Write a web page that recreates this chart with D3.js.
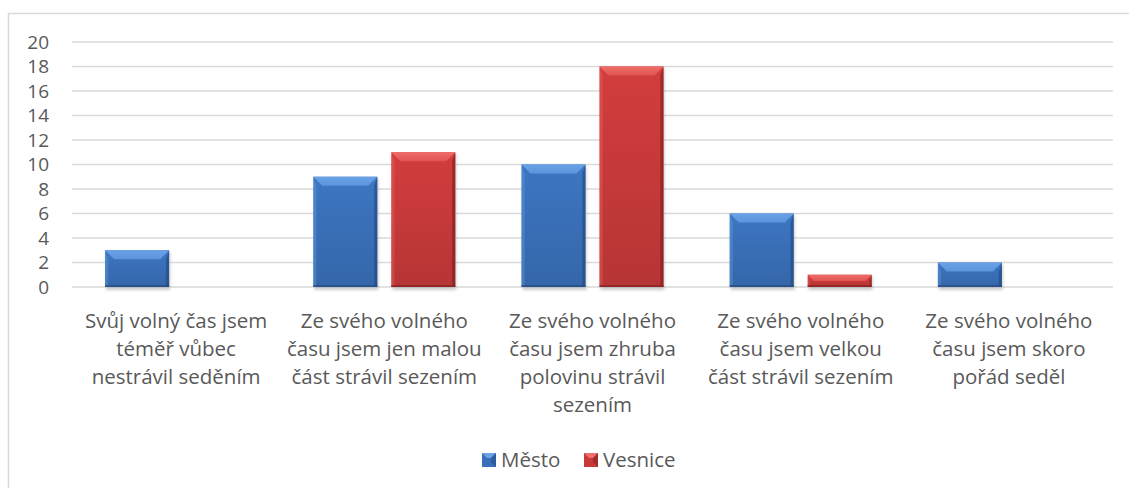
<!DOCTYPE html>
<html>
<head>
<meta charset="utf-8">
<script src="https://cdn.jsdelivr.net/npm/d3@7"></script>
<style>
  body { margin: 0; background: #fff; }
  svg { display: block; }
  text { font-family: "Open Sans", sans-serif; fill: #595959; }
</style>
</head>
<body>
<svg id="chart" width="1129" height="488"></svg>
<script>
// Answers grouped by category, one value per series
const categories = [
  ["Svůj volný čas jsem", "téměř vůbec", "nestrávil seděním"],
  ["Ze svého volného", "času jsem jen malou", "část strávil sezením"],
  ["Ze svého volného", "času jsem zhruba", "polovinu strávil", "sezením"],
  ["Ze svého volného", "času jsem velkou", "část strávil sezením"],
  ["Ze svého volného", "času jsem skoro", "pořád seděl"]
];
const seriesNames = ["Město", "Vesnice"];
const mesto = [3, 9, 10, 6, 2];
const vesnice = [0, 11, 18, 1, 0];
const yTicks = [0, 2, 4, 6, 8, 10, 12, 14, 16, 18, 20];

const svg = d3.select("#chart");
const W = 1129, H = 488;

// outer frame
svg.append("rect").attr("x", 8.5).attr("y", 13.5).attr("width", W).attr("height", H)
  .attr("fill", "#fff").attr("stroke", "#d9d9d9").attr("stroke-width", 1.5);

const plot = { left: 72, right: 1113, top: 42, bottom: 287 };

const x0 = d3.scaleBand().domain(d3.range(categories.length))
  .range([plot.left, plot.right]).paddingInner(0).paddingOuter(0);
const y = d3.scaleLinear().domain([0, 20]).range([plot.bottom, plot.top]);

// gradients
const defs = svg.append("defs");
const palettes = [
  { main: "#3a70b9", light: "#6aa2e6", top: "#5c95dc", dark: "#1f477d" },
  { main: "#c83a3a", light: "#ef6d6a", top: "#e05452", dark: "#7a1e1e" }
];
palettes.forEach((p, i) => {
  const g = defs.append("linearGradient").attr("id", "body" + i)
    .attr("x1", 0).attr("y1", 0).attr("x2", 0).attr("y2", 1);
  g.append("stop").attr("offset", "0%").attr("stop-color", d3.color(p.main).brighter(0.15));
  g.append("stop").attr("offset", "100%").attr("stop-color", d3.color(p.main).darker(0.25));
  const t = defs.append("linearGradient").attr("id", "top" + i)
    .attr("x1", 0).attr("y1", 0).attr("x2", 0).attr("y2", 1);
  t.append("stop").attr("offset", "0%").attr("stop-color", p.light);
  t.append("stop").attr("offset", "100%").attr("stop-color", p.top);
});
const blur = defs.append("filter").attr("id", "shadow").attr("x", "-20%").attr("y", "-20%")
  .attr("width", "140%").attr("height", "160%");
blur.append("feGaussianBlur").attr("stdDeviation", 1.5);

// gridlines
svg.append("g").selectAll("line").data(yTicks).join("line")
  .attr("x1", plot.left).attr("x2", plot.right)
  .attr("y1", d => y(d)).attr("y2", d => y(d))
  .attr("stroke", "#d9d9d9").attr("stroke-width", 1.5);

// y axis labels
const yAxis = d3.axisLeft(y).tickValues(yTicks).tickSize(0).tickPadding(0);
const ya = svg.append("g").attr("transform", `translate(49,0)`).call(yAxis);
ya.select(".domain").remove();
ya.selectAll("text").style("font-size", "19px").attr("fill", "#595959")
  .style("font-family", "'Open Sans', sans-serif");

// bars
const barW = 64, gap = 14;
const x1 = d3.scaleOrdinal().domain([0, 1]).range([-(gap / 2) - barW, gap / 2]);
const data = [];
categories.forEach((c, i) => {
  [mesto[i], vesnice[i]].forEach((v, s) => { if (v > 0) data.push({ i, s, v }); });
});

const bars = svg.append("g").selectAll("g").data(data).join("g")
  .attr("transform", d => `translate(${x0(d.i) + x0.bandwidth() / 2 + x1(d.s)},0)`);

bars.append("rect").attr("x", 1).attr("y", d => y(d.v) + 2)
  .attr("width", barW).attr("height", d => y(0) - y(d.v) + 1)
  .attr("fill", "#9a9a9a").attr("opacity", 0.5).attr("filter", "url(#shadow)");

bars.append("rect").attr("x", 0).attr("y", d => y(d.v))
  .attr("width", barW).attr("height", d => y(0) - y(d.v))
  .attr("fill", d => `url(#body${d.s})`);

// bevel: top face, side faces, bottom edge
const bev = d => Math.min(9, (y(0) - y(d.v)) / 2);
bars.append("path").attr("d", d => {
  const t = y(d.v), b = bev(d);
  return `M0,${t}L${barW},${t}L${barW - b},${t + b}L${b},${t + b}Z`;
}).attr("fill", d => `url(#top${d.s})`);
bars.append("path").attr("d", d => {
  const t = y(d.v), b = bev(d), bot = y(0);
  return `M0,${t}L${b * 0.35},${t + b}L${b * 0.35},${bot - 2}L0,${bot}Z`;
}).attr("fill", d => palettes[d.s].light).attr("opacity", 0.35);
bars.append("path").attr("d", d => {
  const t = y(d.v), b = bev(d), bot = y(0);
  return `M${barW},${t}L${barW - b * 0.35},${t + b}L${barW - b * 0.35},${bot - 2}L${barW},${bot}Z`;
}).attr("fill", d => palettes[d.s].dark).attr("opacity", 0.6);
bars.append("rect").attr("x", 0).attr("y", d => y(0) - 2).attr("width", barW).attr("height", 2)
  .attr("fill", d => palettes[d.s].dark).attr("opacity", 0.6);

// category labels
const lab = svg.append("g").selectAll("text").data(categories).join("text")
  .attr("text-anchor", "middle").style("font-size", "20.5px");
lab.selectAll("tspan").data((d, i) => d.map(l => ({ l, i }))).join("tspan")
  .attr("x", d => x0(d.i) + x0.bandwidth() / 2)
  .attr("y", (d, k) => 328 + k * 28)
  .text(d => d.l);

// legend
const leg = svg.append("g");
const legX = [482, 584];
seriesNames.forEach((n, s) => {
  const g = leg.append("g").attr("transform", `translate(${legX[s]},453)`);
  g.append("rect").attr("width", 14).attr("height", 14).attr("fill", palettes[s].main);
  g.append("path").attr("d", "M0,0L14,0L9,5L5,5Z").attr("fill", palettes[s].light);
  g.append("path").attr("d", "M14,0L14,14L9,9L9,5Z").attr("fill", palettes[s].dark).attr("opacity", 0.5);
  g.append("text").attr("x", 19).attr("y", 14).style("font-size", "20.5px").text(n);
});
</script>
</body>
</html>
